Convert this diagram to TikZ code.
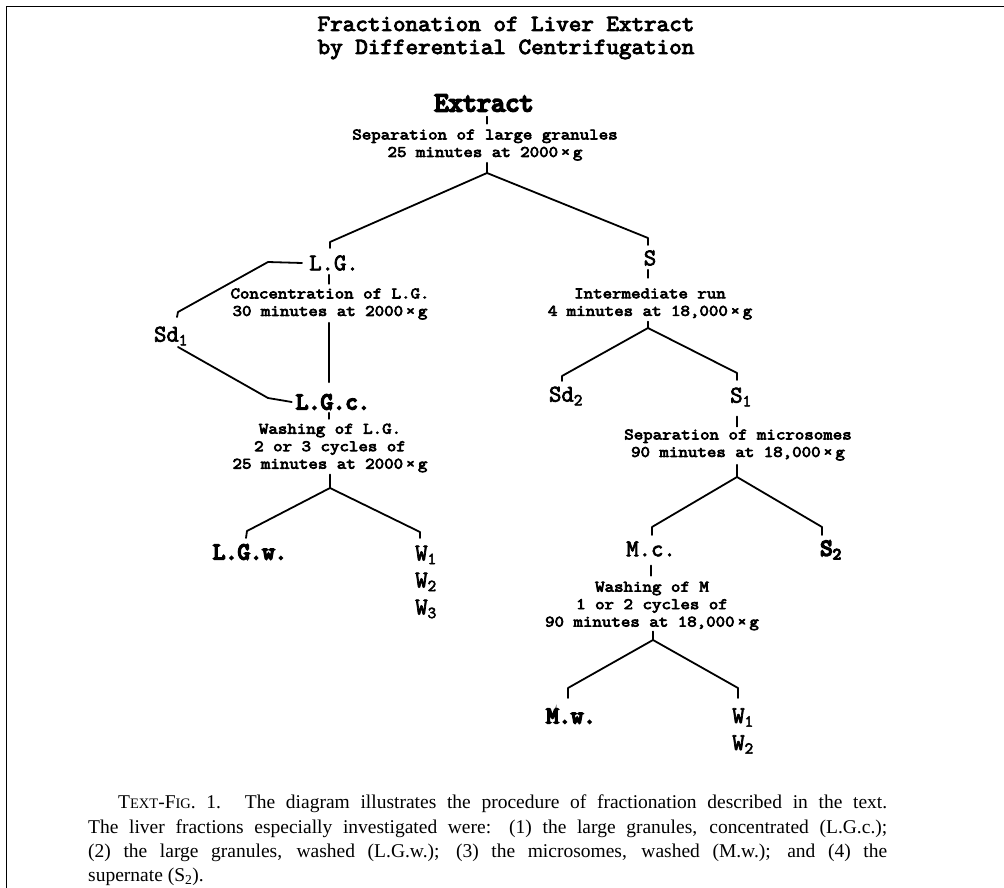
\documentclass[tikz,border=0pt]{standalone}
\usepackage{fontspec}
\setmainfont{Liberation Serif}
\newfontfamily\ttitle[FakeBold=4,FakeStretch=1.06]{Latin Modern Mono}
\newfontfamily\tdesc[FakeBold=4.5,FakeStretch=1.15]{Latin Modern Mono}
\newfontfamily\tlab[FakeBold=3]{Latin Modern Mono}
\newfontfamily\tbold[FakeBold=7]{Latin Modern Mono}
\newcommand\smc[1]{{\fontsize{14.5}{24.2}\selectfont #1}}
\tikzset{
  conn/.style={line width=1.8pt, line cap=round, line join=round},
  ttl/.style={inner sep=0pt, align=center, font=\ttitle\fontsize{23}{23}\selectfont},
  desc/.style={inner sep=0pt, align=center, font=\tdesc\fontsize{16}{17.5}\selectfont},
  lab/.style={inner sep=0pt, font=\tlab\fontsize{24}{27}\selectfont},
  blab/.style={inner sep=0pt, font=\tbold\fontsize{24}{27}\selectfont},
  captxt/.style={anchor=north west, inner sep=0pt, align=left, font=\fontsize{19.5}{24.2}\selectfont},
}
\begin{document}
\begin{tikzpicture}[x=1pt,y=-1pt]
\useasboundingbox (0,0) rectangle (1004,888);
% frame
\coordinate (fa) at (6.5,888); \coordinate (fb) at (6.5,6.5); \coordinate (fc) at (1004,6.5);
\draw[line width=1.6pt] (fa) -- (fb) -- (fc);
% title
\node[ttl] (title) at (506,38) {Fractionation of Liver Extract\\by Differential Centrifugation};
% top
\node[blab, font=\tbold\fontsize{27.5}{30}\selectfont] (ext) at (484,103) {Extract};
\node[desc] (sep1) at (485,145) {Separation of large granules\\25 minutes at 2000\,×\,g};
\coordinate (v1) at (487,173);
\draw[conn] (ext.south -| v1) ++(0,5) -- ++(0,7);
\draw[conn] (sep1.south -| v1) ++(0,2) -- (v1);
\coordinate (c1l) at (330,242); \coordinate (c1r) at (648,238);
\draw[conn] (v1) -- (c1l) -- ++(0,6);
\draw[conn] (v1) -- (c1r) -- ++(0,7);
\node[lab] (lg) at (334,263) {L.G.};
\node[lab] (s) at (650,258) {S};
% left column
\node[blab] (lgc) at (333,402) {L.G.c.};
\node[lab] (sd1) at (171,336) {Sd\textsubscript{1}};
\coordinate (h1) at (268,262); \coordinate (k1) at (178,312);
\draw[conn] ([xshift=-7pt]lg.west) -- (h1) -- (k1) -- ++(-1,5);
\coordinate (k2) at (178,347); \coordinate (h2) at (268,398);
\draw[conn] (k2) -- (h2) -- ([xshift=-4pt]lgc.west);
\coordinate (colL) at (329,0);
\draw[conn] (lg.south -| colL) ++(0,4) -- ++(0,9);
\node[desc] (conc) at (330,304) {Concentration of L.G.\\30 minutes at 2000\,×\,g};
\draw[conn] (conc.south -| colL) ++(0,3) -- ([yshift=12pt]lgc.north -| colL);
\draw[conn] (lgc.south -| colL) ++(0,3) -- ++(0,6);
\node[desc] (wash1) at (330,448) {Washing of L.G.\\2 or 3 cycles of\\25 minutes at 2000\,×\,g};
\coordinate (v3) at (330,488);
\draw[conn] (wash1.south -| v3) ++(0,2) -- (v3);
\coordinate (c3l) at (247,531); \coordinate (c3r) at (420,532);
\draw[conn] (v3) -- (c3l) -- ++(-1,7);
\draw[conn] (v3) -- (c3r) -- ++(0,6);
\node[blab] (lgw) at (250,552) {L.G.w.};
\node[lab, align=center] (w3) at (426,582) {W\textsubscript{1}\\W\textsubscript{2}\\W\textsubscript{3}};
% right column
\coordinate (colS) at (648,0);
\draw[conn] (s.south -| colS) ++(0,4) -- ++(0,8);
\node[desc] (inter) at (650,304) {Intermediate run\\4 minutes at 18,000\,×\,g};
\coordinate (v2) at (648,328);
\draw[conn] (inter.south -| v2) ++(0,2) -- (v2);
\coordinate (c2l) at (562,376); \coordinate (c2r) at (737,373);
\draw[conn] (v2) -- (c2l) -- ++(0,5);
\draw[conn] (v2) -- (c2r) -- ++(0,7);
\node[lab] (sd2) at (566,396) {Sd\textsubscript{2}};
\node[lab] (s1) at (741,397) {S\textsubscript{1}};
\coordinate (colM) at (737,0);
\draw[conn] (s1.south -| colM) ++(0,10) -- ++(0,10);
\node[desc] (sepm) at (738,445) {Separation of microsomes\\90 minutes at 18,000\,×\,g};
\coordinate (v4) at (737,477);
\draw[conn] (sepm.south -| v4) ++(0,4) -- (v4);
\coordinate (c4l) at (652,527); \coordinate (c4r) at (822,527);
\draw[conn] (v4) -- (c4l) -- ++(0,8);
\draw[conn] (v4) -- (c4r) -- ++(0,8);
\node[lab] (mc) at (651,549) {M.c.};
\node[blab] (s2) at (831,550) {S\textsubscript{2}};
\coordinate (colW) at (651,0);
\draw[conn] (mc.south -| colW) ++(0,9) -- ++(0,10);
\node[desc] (washm) at (652,606) {Washing of M\\1 or 2 cycles of\\90 minutes at 18,000\,×\,g};
\coordinate (v5) at (653,640);
\draw[conn] (washm.south -| v5) ++(0,1) -- (v5);
\coordinate (c5l) at (568,688); \coordinate (c5r) at (738,688);
\draw[conn] (v5) -- (c5l) -- ++(0,10);
\draw[conn] (v5) -- (c5r) -- ++(0,10);
\node[blab] (mw) at (571,716) {M.w.};
\node[lab, align=center] (w2) at (743,731) {W\textsubscript{1}\\W\textsubscript{2}};
% caption
\node[captxt] (cap) at (88,795) {\hspace*{30pt}\makebox[769pt][s]{T\smc{EXT}-F\smc{IG}. 1. The diagram illustrates the procedure of fractionation described in the text.}\\
\makebox[799pt][s]{The liver fractions especially investigated were: (1) the large granules, concentrated (L.G.c.);}\\
\makebox[799pt][s]{(2) the large granules, washed (L.G.w.); (3) the microsomes, washed (M.w.); and (4) the}\\
supernate (S\textsubscript{2}).};
\end{tikzpicture}
\end{document}
